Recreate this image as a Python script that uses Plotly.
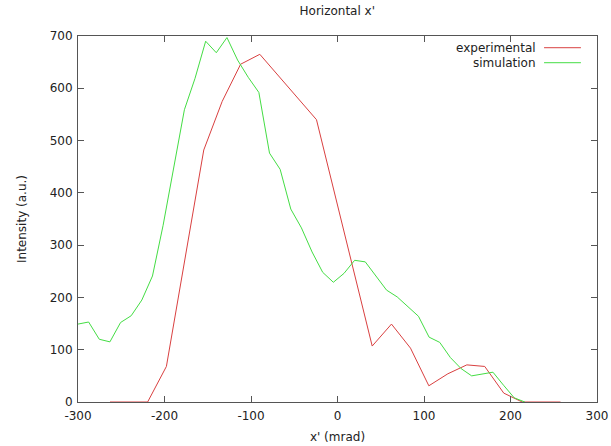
import plotly.graph_objects as go

# Measured horizontal angular distribution x' (mrad) vs intensity (a.u.)
exp_x = [-263, -219.5, -197.8, -154.6, -133.3, -112, -89.8, -24.3, 40.1, 62.4,
         84.4, 105.6, 127.6, 149.5, 170.2, 192.2, 213.5, 257.8]
exp_y = [0, 0, 68, 482, 575, 646, 665, 540, 107, 149,
         103, 31, 54, 71, 68, 17, 0, 0]

# Simulated distribution
sim_x = [-300, -287.7, -275.4, -263.1, -250.8, -238.5, -226.2, -213.9, -201.6, -189.3,
         -177, -164.7, -152.4, -140.1, -127.8, -115.5, -103.2, -90.9, -78.6, -66.3,
         -54, -41.7, -29.4, -17.1, -4.8, 7.5, 19.8, 32.1, 44.4, 56.7,
         69, 81.3, 93.6, 105.9, 118.2, 130.5, 142.8, 155.1, 167.4, 179.7,
         192, 204.3, 216.6]
sim_y = [149, 153, 120, 115, 152, 165, 195, 241, 338, 450,
         559, 619, 690, 668, 697, 654, 621, 592, 476, 445,
         369, 333, 287, 248, 229, 246, 271, 268, 241, 214,
         201, 183, 164, 124, 114, 85, 64, 50, 54, 57,
         32, 8, 0]

x_ticks = [-300, -200, -100, 0, 100, 200, 300]
y_ticks = [0, 100, 200, 300, 400, 500, 600, 700]

series_names = ["experimental", "simulation"]
series_colors = ["#d94040", "#44dd44"]

FONT = "DejaVu Sans, Liberation Sans, sans-serif"
AXIS_COLOR = "#555555"

fig = go.Figure()
fig.add_trace(go.Scatter(x=exp_x, y=exp_y, mode="lines", name=series_names[0],
                         line=dict(color=series_colors[0], width=1), showlegend=False))
fig.add_trace(go.Scatter(x=sim_x, y=sim_y, mode="lines", name=series_names[1],
                         line=dict(color=series_colors[1], width=1), showlegend=False))

# gnuplot-style key: right-aligned text with the line sample after it
for i, (name, color) in enumerate(zip(series_names, series_colors)):
    ypos = 0.968 - i * 0.041
    fig.add_annotation(xref="paper", yref="paper", x=0.886, y=ypos, text=name,
                       showarrow=False, xanchor="right", yanchor="middle",
                       font=dict(family=FONT, size=12, color="#222222"))
    fig.add_shape(type="line", xref="paper", yref="paper",
                  x0=0.898, x1=0.969, y0=ypos, y1=ypos,
                  line=dict(color=color, width=1))

fig.update_layout(
    width=611, height=446,
    margin=dict(l=78, r=14, t=36, b=44, autoexpand=False),
    paper_bgcolor="white", plot_bgcolor="white",
    font=dict(family=FONT, size=12, color="#222222"),
    title=dict(text="Horizontal x'", x=0.552, xanchor="center", y=0.975, yanchor="middle",
               font=dict(family=FONT, size=12, color="#222222")),
)
fig.update_xaxes(
    range=[-300, 300], tickvals=x_ticks, ticktext=[str(v) for v in x_ticks],
    automargin=False, ticklabelstandoff=3,
    showgrid=False, zeroline=False, showline=True, linecolor=AXIS_COLOR, linewidth=1,
    mirror="allticks", ticks="inside", ticklen=6, tickcolor=AXIS_COLOR,
    title=dict(text="x' (mrad)", standoff=10, font=dict(family=FONT, size=12)),
)
fig.update_yaxes(
    range=[0, 700], tickvals=y_ticks, ticktext=[str(v) for v in y_ticks],
    automargin=False, ticklabelstandoff=2,
    showgrid=False, zeroline=False, showline=True, linecolor=AXIS_COLOR, linewidth=1,
    mirror="allticks", ticks="inside", ticklen=6, tickcolor=AXIS_COLOR,
    title=dict(text="Intensity (a.u.)", standoff=20, font=dict(family=FONT, size=12)),
)

fig.write_html("out.html")
